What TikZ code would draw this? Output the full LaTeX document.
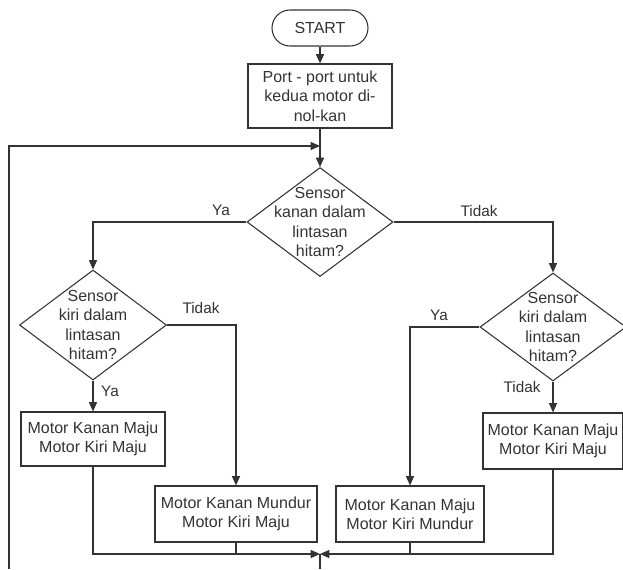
\documentclass[tikz,border=0pt]{standalone}
\usepackage{fontspec}
\setmainfont{Liberation Sans}
\usetikzlibrary{shapes.geometric,arrows.meta}
\definecolor{dgray}{rgb}{0.2,0.2,0.2}
\tikzset{
  ln/.style={draw=dgray,line width=0.8pt},
  arr/.style={ln,-{Triangle[length=7pt,width=6pt]}},
  txt/.style={text=dgray,align=center,font=\fontsize{12}{14.5}\selectfont},
  proc/.style={ln,txt,rectangle,inner sep=0pt},
  term/.style={proc,rounded corners=13.5pt,minimum width=72pt,minimum height=27pt},
  dec/.style={ln,diamond,inner sep=0pt},
  lbl/.style={text=dgray,font=\fontsize{11.5}{14}\selectfont,inner sep=0pt}
}
\begin{document}
\begin{tikzpicture}[x=0.75pt,y={(0pt,-0.75pt)}]
\useasboundingbox (0,0) rectangle (623,569);
\node[term] (start) at (320,28) {START};
\node[proc,minimum width=108pt,minimum height=48pt] (init) at (320,96) {Port - port untuk\\kedua motor di-\\nol-kan};
\node[dec,minimum width=109.5pt,minimum height=81.75pt,label={[txt]center:Sensor\\kanan dalam\\lintasan\\hitam?}] (d1) at (320,222) {};
\node[dec,minimum width=110.25pt,minimum height=82.5pt,label={[txt]center:Sensor\\kiri dalam\\lintasan\\hitam?}] (d2) at (93,325) {};
\node[dec,minimum width=109.5pt,minimum height=81pt,label={[txt]center:Sensor\\kiri dalam\\lintasan\\hitam?}] (d3) at (553,327) {};
\node[proc,minimum width=108pt,minimum height=40.5pt] (b1) at (93,439) {Motor Kanan Maju\\Motor Kiri Maju};
\node[proc,minimum width=121.5pt,minimum height=42pt] (b2) at (236,514) {Motor Kanan Mundur\\Motor Kiri Maju};
\node[proc,minimum width=111pt,minimum height=42pt] (b3) at (410,514) {Motor Kanan Maju\\Motor Kiri Mundur};
\node[proc,minimum width=105pt,minimum height=42pt] (b4) at (553,441) {Motor Kanan Maju\\Motor Kiri Maju};
\node[lbl] (ya1) at (221,210) {Ya};
\node[lbl] (td1) at (479,211) {Tidak};
\node[lbl] (td2) at (201,308) {Tidak};
\node[lbl] (ya2) at (110,391) {Ya};
\node[lbl] (ya3) at (439,315) {Ya};
\node[lbl] (td3) at (522,387) {Tidak};
\coordinate (jn) at (320,146);
\coordinate (lp) at (9,569);
\coordinate (mg) at (320,554);
\coordinate (mb) at (320,569);
\draw[arr] (start) -- (init);
\draw[arr] (init) -- (d1);
\draw[arr] (lp) |- (jn);
\draw[arr] (d1.west) -| (d2.north);
\draw[arr] (d1.east) -| (d3.north);
\draw[arr] (d2.east) -| (b2.north);
\draw[arr] (d2.south) -- (b1.north);
\draw[arr] (d3.west) -| (b3.north);
\draw[arr] (d3.south) -- (b4.north);
\draw[arr] (b1.south) |- (mg);
\draw[arr] (b4.south) |- (mg);
\draw[ln] (b2.south) -- (b2.south |- mg);
\draw[ln] (b3.south) -- (b3.south |- mg);
\draw[ln] (mg) -- (mb);
\end{tikzpicture}
\end{document}
